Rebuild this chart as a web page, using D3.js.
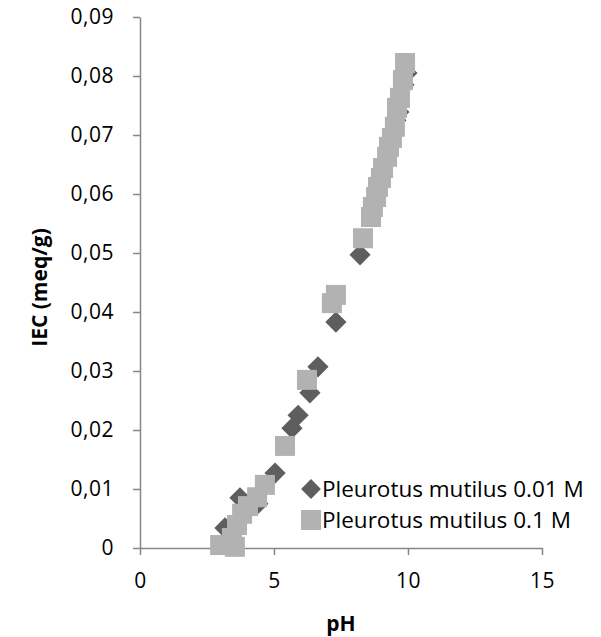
<!DOCTYPE html>
<html>
<head>
<meta charset="utf-8">
<script src="https://cdn.jsdelivr.net/npm/d3@7"></script>
<style>
  body { margin: 0; background: #fff; }
  text { font-family: "Open Sans", sans-serif; fill: #000; }
</style>
</head>
<body>
<div id="chart"></div>
<script>
// Data
var phLow = [3.17, 3.73, 4.4, 5.04, 5.67, 5.9, 6.34, 6.64, 7.31, 8.21, 9.55, 9.66, 9.85, 9.96];
var iecLow = [0.0034, 0.0085, 0.0075, 0.0127, 0.0203, 0.0225, 0.0263, 0.0307, 0.0383, 0.0497, 0.0725, 0.0739, 0.0785, 0.0805];

var phHigh = [2.99, 3.54, 3.43, 3.62, 3.81, 4.03, 4.37, 4.66, 5.41, 6.23, 7.16, 7.31,
  8.32, 8.62, 8.69, 8.81, 8.88, 8.99, 9.07, 9.22, 9.29, 9.40, 9.51, 9.59, 9.70, 9.81, 9.89];
var iecHigh = [0.0005, 0.0002, 0.0017, 0.0039, 0.0058, 0.0071, 0.0086, 0.0107, 0.0173, 0.0285, 0.0415, 0.0429,
  0.0525, 0.0561, 0.0578, 0.0595, 0.0612, 0.0627, 0.0644, 0.0663, 0.0680, 0.0695, 0.0714, 0.0746, 0.0763, 0.0793, 0.0822];

var seriesNames = ["Pleurotus mutilus 0.01 M", "Pleurotus mutilus 0.1 M"];
var xTicks = [0, 5, 10, 15];
var yTicks = [0, 0.01, 0.02, 0.03, 0.04, 0.05, 0.06, 0.07, 0.08, 0.09];

var svgWidth = 601;
var svgHeight = 637;
var margin = { top: 17, right: 59, bottom: 89, left: 140 };
var width = svgWidth - margin.left - margin.right;
var height = svgHeight - margin.top - margin.bottom;

var svg = d3.select("#chart")
  .append("svg")
  .attr("width", svgWidth)
  .attr("height", svgHeight);

var chartGroup = svg.append("g")
  .attr("transform", `translate(${margin.left}, ${margin.top})`);

var x = d3.scaleLinear().domain([0, 15]).range([0, width]);
var y = d3.scaleLinear().domain([0, 0.09]).range([height, 0]);

var axisColor = "#868686";

// axes
var bottomAxis = d3.axisBottom(x).tickValues(xTicks).tickSize(7).tickSizeOuter(0).tickPadding(18);
var leftAxis = d3.axisLeft(y).tickValues(yTicks).tickSize(7).tickSizeOuter(0).tickPadding(19)
  .tickFormat(d => d === 0 ? "0" : d3.format(".2f")(d).replace(".", ","));

var xg = chartGroup.append("g")
  .attr("transform", `translate(0, ${height})`)
  .call(bottomAxis);
var yg = chartGroup.append("g").call(leftAxis);

[xg, yg].forEach(function(g) {
  g.select(".domain").attr("stroke", axisColor).attr("stroke-width", 1.5);
  g.selectAll(".tick line").attr("stroke", axisColor).attr("stroke-width", 1.5);
  g.selectAll(".tick text")
    .style("font-family", "'Open Sans', sans-serif")
    .style("font-size", "21px")
    .style("letter-spacing", "0.5px")
    .attr("fill", "#000");
});

// points
var lowData = phLow.map((p, i) => ({ ph: p, iec: iecLow[i] }));
var highData = phHigh.map((p, i) => ({ ph: p, iec: iecHigh[i] }));

chartGroup.selectAll(".lowPt")
  .data(lowData)
  .enter()
  .append("rect")
  .attr("class", "lowPt")
  .attr("x", -7.5)
  .attr("y", -7.5)
  .attr("width", 15)
  .attr("height", 15)
  .attr("fill", "#5e5e5e")
  .attr("transform", d => `translate(${x(d.ph)}, ${y(d.iec)}) rotate(45)`);

chartGroup.selectAll(".highPt")
  .data(highData)
  .enter()
  .append("rect")
  .attr("class", "highPt")
  .attr("x", d => x(d.ph) - 10)
  .attr("y", d => y(d.iec) - 10)
  .attr("width", 20)
  .attr("height", 20)
  .attr("fill", "#b2b2b2");

// legend
var legend = svg.append("g").attr("transform", "translate(311, 489)");
legend.append("rect")
  .attr("x", -7).attr("y", -7).attr("width", 14).attr("height", 14)
  .attr("fill", "#5e5e5e")
  .attr("transform", "rotate(45)");
legend.append("rect")
  .attr("x", -10).attr("y", 31 - 10).attr("width", 20).attr("height", 20)
  .attr("fill", "#b2b2b2");
legend.selectAll("text.leg")
  .data(seriesNames)
  .enter()
  .append("text")
  .attr("class", "leg")
  .attr("x", 11)
  .attr("y", (d, i) => i * 31)
  .attr("dy", "0.36em")
  .style("font-size", "22.5px")
  .text(d => d);

// axis titles
svg.append("text")
  .attr("x", margin.left + width / 2)
  .attr("y", 631)
  .attr("text-anchor", "middle")
  .style("font-size", "21px")
  .style("font-weight", "bold")
  .text("pH");

svg.append("text")
  .attr("transform", `translate(47, ${margin.top + height / 2 + 5}) rotate(-90)`)
  .attr("text-anchor", "middle")
  .style("font-size", "21px")
  .style("font-weight", "bold")
  .text("IEC (meq/g)");
</script>
</body>
</html>
